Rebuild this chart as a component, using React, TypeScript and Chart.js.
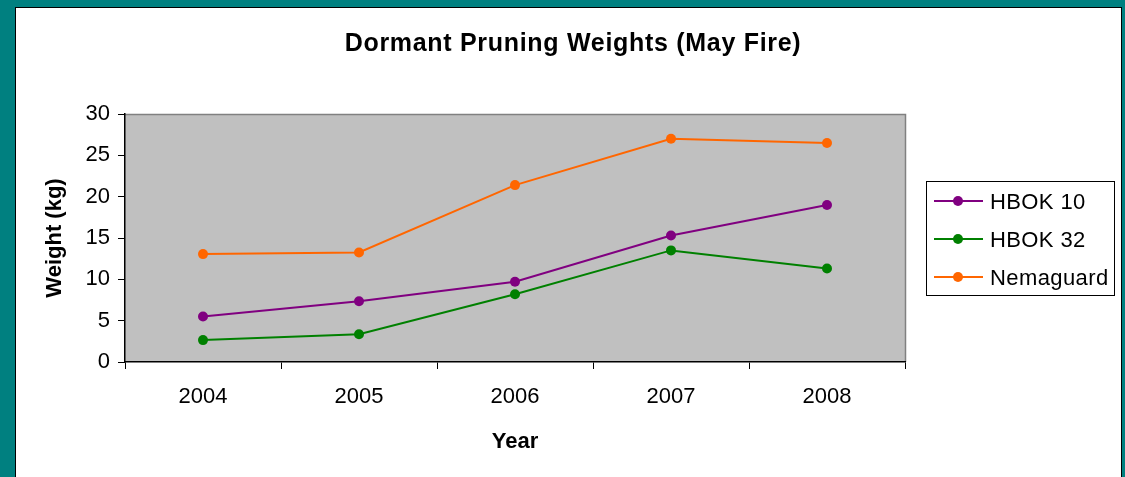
import React, { useEffect, useRef } from "react";
import { Chart, registerables } from "chart.js";

Chart.register(...registerables);

const years: string[] = ["2004", "2005", "2006", "2007", "2008"];
const hbok10: number[] = [5.5, 7.35, 9.7, 15.3, 19.0];
const hbok32: number[] = [2.65, 3.35, 8.2, 13.5, 11.3];
const nemaguard: number[] = [13.05, 13.25, 21.4, 27.0, 26.5];
const yTicks: number[] = [0, 5, 10, 15, 20, 25, 30];

const FONT = "'Liberation Sans', Arial, sans-serif";
const chartTitle = "Dormant Pruning Weights (May Fire)";

const decorPlugin = {
  id: "decor",
  beforeDraw(chart: any) {
    const { ctx, chartArea: a } = chart;
    ctx.save();
    ctx.fillStyle = "#C0C0C0";
    ctx.fillRect(a.left, a.top, a.right - a.left, a.bottom - a.top);
    ctx.strokeStyle = "#808080";
    ctx.lineWidth = 1.5;
    ctx.beginPath();
    ctx.moveTo(a.left, a.top + 0.5);
    ctx.lineTo(a.right + 0.5, a.top + 0.5);
    ctx.lineTo(a.right + 0.5, a.bottom);
    ctx.stroke();
    ctx.restore();
  },
  afterDraw(chart: any) {
    const { ctx } = chart;
    ctx.save();
    // title
    ctx.fillStyle = "#000";
    ctx.font = `bold 25px ${FONT}`;
    (ctx as any).letterSpacing = "0.7px";
    ctx.textAlign = "center";
    ctx.textBaseline = "alphabetic";
    ctx.fillText(chartTitle, 573, 51);
    // legend
    const bx = 926, by = 181, bw = 188, bh = 114;
    ctx.fillStyle = "#FFFFFF";
    ctx.fillRect(bx, by, bw, bh);
    ctx.strokeStyle = "#000";
    ctx.lineWidth = 1;
    ctx.strokeRect(bx + 0.5, by + 0.5, bw, bh);
    const ys = [201, 239, 277];
    chart.data.datasets.forEach((ds: any, i: number) => {
      const y = ys[i];
      ctx.strokeStyle = ds.borderColor;
      ctx.lineWidth = 2;
      ctx.beginPath();
      ctx.moveTo(934, y);
      ctx.lineTo(983, y);
      ctx.stroke();
      ctx.fillStyle = ds.borderColor;
      ctx.beginPath();
      ctx.arc(958, y, 5, 0, Math.PI * 2);
      ctx.fill();
      ctx.fillStyle = "#000";
      ctx.font = `22px ${FONT}`;
      (ctx as any).letterSpacing = "0.4px";
      ctx.textAlign = "left";
      ctx.textBaseline = "alphabetic";
      ctx.fillText(ds.label, 990, y + 8);
    });
    ctx.restore();
  },
};

export default function App() {
  const ref = useRef<HTMLCanvasElement | null>(null);
  useEffect(() => {
    if (!ref.current) return;
    const mk = (label: string, data: number[], color: string) => ({
      label,
      data,
      borderColor: color,
      backgroundColor: color,
      pointBackgroundColor: color,
      pointBorderColor: color,
      pointRadius: 5,
      pointBorderWidth: 0,
      borderWidth: 2,
      tension: 0,
    });
    const chart = new Chart(ref.current, {
      type: "line",
      data: {
        labels: years,
        datasets: [
          mk("HBOK 10", hbok10, "#800080"),
          mk("HBOK 32", hbok32, "#008000"),
          mk("Nemaguard", nemaguard, "#FF6600"),
        ],
      },
      options: {
        responsive: false,
        animation: false,
        devicePixelRatio: 1,
        layout: { padding: { top: 114, right: 220, left: 0, bottom: 0 } },
        plugins: {
          legend: { display: false },
          title: { display: false },
          tooltip: { enabled: false },
        },
        scales: {
          x: {
            type: "category",
            offset: true,
            grid: {
              offset: true,
              drawOnChartArea: false,
              drawTicks: true,
              tickLength: 7,
              color: "#000",
              lineWidth: 1,
            },
            border: { display: true, color: "#000", width: 1.5 },
            ticks: {
              color: "#000",
              font: { family: FONT, size: 22 },
              padding: 15,
              maxRotation: 0,
            },
            title: {
              display: true,
              text: "Year",
              color: "#000",
              font: { family: FONT, size: 22, weight: "bold", lineHeight: 1.2 },
              padding: { top: 0, bottom: 22 },
            },
            afterFit: (s: any) => {
              s.height = 115;
            },
          },
          y: {
            min: 0,
            max: 30,
            afterBuildTicks: (s: any) => {
              s.ticks = yTicks.map((v) => ({ value: v }));
            },
            grid: {
              drawOnChartArea: false,
              drawTicks: true,
              tickLength: 7,
              color: "#000",
              lineWidth: 1,
            },
            border: { display: true, color: "#000", width: 1.5 },
            ticks: {
              color: "#000",
              font: { family: FONT, size: 22 },
              padding: 8,
            },
            title: {
              display: true,
              text: "Weight (kg)",
              color: "#000",
              font: { family: FONT, size: 22, weight: "bold", lineHeight: 1.2 },
              padding: { top: 42, bottom: 0 },
            },
            afterFit: (s: any) => {
              s.width = 125;
            },
          },
        },
      },
      plugins: [decorPlugin],
    });
    return () => chart.destroy();
  }, []);

  return (
    <div
      style={{
        position: "fixed",
        left: 0,
        top: 0,
        width: 1125,
        height: 477,
        background: "#008080",
        overflow: "hidden",
      }}
    >
      <div
        style={{
          position: "absolute",
          left: 15,
          top: 7,
          width: 1105,
          height: 480,
          background: "#FFFFFF",
          border: "1.5px solid #000",
          borderBottom: "none",
        }}
      />
      <canvas
        ref={ref}
        width={1125}
        height={477}
        style={{ position: "absolute", left: 0, top: 0, width: 1125, height: 477 }}
      />
    </div>
  );
}
